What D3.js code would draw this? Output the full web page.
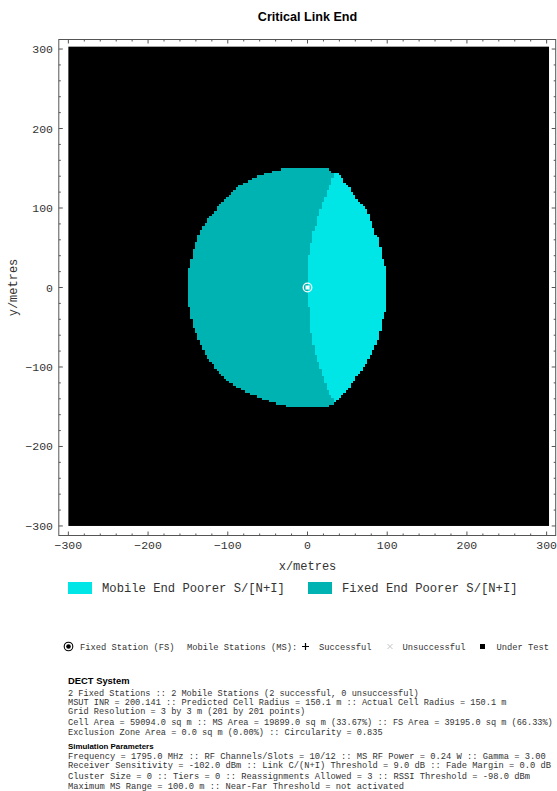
<!DOCTYPE html>
<html>
<head>
<meta charset="utf-8">
<script src="https://cdn.jsdelivr.net/npm/d3@7"></script>
<style>
  html, body { margin: 0; padding: 0; background: #fff; }
  svg { display: block; }
</style>
</head>
<body>
<script>
// ---- Data -----------------------------------------------------------------
const title = "Critical Link End";
const xLabel = "x/metres";
const yLabel = "y/metres";
const majorTicks = [-300, -200, -100, 0, 100, 200, 300];
const minorStep = 20;
const gridStep = 3;            // metres between grid points
const gridMin = -300, gridMax = 300;

// Outer left edge of the cell (fixed end poorer side), top -> bottom
const leftEdge = [
  [34,144],[26,148.5],[10,151],[-10,151],[-31,149.5],[-43,145.7],[-59,141.5],
  [-72,135.2],[-85,128.9],[-97,118.4],[-108,105.9],[-119,93.3],[-131,76.5],
  [-139,59.7],[-144,43],[-148,26],[-151,5],[-151,-5],[-148,-28],[-143,-49],
  [-136,-66],[-129,-83],[-116,-100],[-106,-112],[-89,-125],[-72,-133],
  [-51,-141.5],[-32,-148],[-10,-151],[10,-151],[26,-148.5],[35,-144]
];
// Boundary between the two regions, top -> bottom
const splitEdge = [
  [34,144],[28,129],[24,118.4],[20,108],[15.7,97.5],[11.5,80.7],[7.3,72.3],
  [4.4,57.6],[0.6,38.8],[0.2,0],[2.3,-36.7],[4.4,-57.6],[7.3,-72.3],
  [9.6,-82.8],[15.7,-99.6],[19.9,-112.2],[24,-124.7],[28.2,-133.1],[35,-144]
];
// Outer right edge of the cell (mobile end poorer side), top -> bottom
const rightEdge = [
  [34,144],[37,143.6],[45,135.2],[51,126.8],[58,118.4],[64,108],[74,97.5],
  [80.5,82.4],[85,67.7],[90,59.7],[93.5,38.8],[99.3,22],[99.3,-24],
  [93.5,-40.9],[90,-61.8],[85,-72.3],[80.5,-82.8],[74,-95.4],[64,-108],
  [58,-116.4],[51,-126.8],[45,-133],[37,-141.5],[35,-144]
];
const fixedStations = [[0, 0]];

const regionNames = ["Mobile End Poorer S/[N+I]", "Fixed End Poorer S/[N+I]"];
const regionColors = ["#00E6E6", "#00B3B3"];

const markerKey = [
  { sym: "fs",     text: "Fixed Station (FS)" },
  { sym: "none",   text: "Mobile Stations (MS):" },
  { sym: "plus",   text: "Successful" },
  { sym: "cross",  text: "Unsuccessful" },
  { sym: "square", text: "Under Test" }
];

const dectTitle = "DECT System";
const dectLines = [
  "2 Fixed Stations :: 2 Mobile Stations (2 successful, 0 unsuccessful)",
  "MSUT INR = 200.141 :: Predicted Cell Radius = 150.1 m :: Actual Cell Radius = 150.1 m",
  "Grid Resolution = 3 by 3 m (201 by 201 points)",
  "Cell Area = 59094.0 sq m :: MS Area = 19899.0 sq m (33.67%) :: FS Area = 39195.0 sq m (66.33%)",
  "Exclusion Zone Area = 0.0 sq m (0.00%) :: Circularity = 0.835"
];
const simTitle = "Simulation Parameters";
const simLines = [
  "Frequency = 1795.0 MHz :: RF Channels/Slots = 10/12 :: MS RF Power = 0.24 W :: Gamma = 3.00",
  "Receiver Sensitivity = -102.0 dBm :: Link C/(N+I) Threshold = 9.0 dB :: Fade Margin = 0.0 dB",
  "Cluster Size = 0 :: Tiers = 0 :: Reassignments Allowed = 3 :: RSSI Threshold = -98.0 dBm",
  "Maximum MS Range = 100.0 m :: Near-Far Threshold = not activated"
];

// ---- Layout ---------------------------------------------------------------
const W = 557, H = 791;
const mono = "'Liberation Mono', 'DejaVu Sans Mono', monospace";
const sans = "'Liberation Sans', Arial, sans-serif";

const x = d3.scaleLinear().domain([-312, 312]).range([58.8, 556.2]);
const y = d3.scaleLinear().domain([-312, 312]).range([535.5, 39.5]);

const svg = d3.select("body").append("svg")
  .attr("width", W).attr("height", H)
  .attr("viewBox", `0 0 ${W} ${H}`);

svg.append("text")
  .attr("x", 307.5).attr("y", 20.5)
  .attr("text-anchor", "middle")
  .style("font-family", sans).style("font-weight", "bold")
  .style("font-size", "12.6px").attr("fill", "#000")
  .text(title);

// ---- Grid of cells ----------------------------------------------------------
const plot = svg.append("g");
plot.append("rect")
  .attr("x", x(gridMin)).attr("y", y(gridMax + gridStep))
  .attr("width", x(gridMax + gridStep) - x(gridMin))
  .attr("height", y(gridMin) - y(gridMax + gridStep))
  .attr("fill", "#000");

const fixedPoly = leftEdge.concat(splitEdge.slice().reverse());
const mobilePoly = splitEdge.concat(rightEdge.slice().reverse());

const gridVals = d3.range(gridMin, gridMax + 1, gridStep);
const runs = [];
gridVals.forEach(gy => {
  let cur = null;
  gridVals.forEach(gx => {
    const c = [gx + gridStep / 2, gy + gridStep / 2];
    let k = -1;
    if (d3.polygonContains(mobilePoly, c)) k = 0;
    else if (d3.polygonContains(fixedPoly, c)) k = 1;
    if (cur && cur.k === k) { cur.x1 = gx + gridStep; }
    else {
      if (cur && cur.k >= 0) runs.push(cur);
      cur = { k, y0: gy, x0: gx, x1: gx + gridStep };
    }
  });
  if (cur && cur.k >= 0) runs.push(cur);
});

plot.selectAll("rect.cell").data(runs).join("rect")
  .attr("class", "cell")
  .attr("x", d => x(d.x0))
  .attr("y", d => y(d.y0 + gridStep))
  .attr("width", d => x(d.x1) - x(d.x0))
  .attr("height", d => y(d.y0) - y(d.y0 + gridStep) + 0.4)
  .attr("fill", d => regionColors[d.k])
  .attr("shape-rendering", "crispEdges");

// fixed station marker
const fs = plot.selectAll("g.fs").data(fixedStations).join("g")
  .attr("transform", d => `translate(${x(d[0])},${y(d[1])})`);
fs.append("circle").attr("r", 4.3).attr("fill", "none")
  .attr("stroke", "#fff").attr("stroke-width", 1.3);
fs.append("rect").attr("x", -2).attr("y", -2).attr("width", 4).attr("height", 4)
  .attr("fill", "#fff");

// ---- Frame and ticks ---------------------------------------------------------
const frameColor = "#555";
svg.append("rect")
  .attr("x", x(-312)).attr("y", y(312))
  .attr("width", x(312) - x(-312) - 0.5).attr("height", y(-312) - y(312))
  .attr("fill", "none").attr("stroke", frameColor).attr("stroke-width", 1);

const minorTicks = d3.range(-300, 301, minorStep).filter(v => !majorTicks.includes(v));
const ticks = majorTicks.map(v => ({ v, len: 4 })).concat(minorTicks.map(v => ({ v, len: 2 })));
const tg = svg.append("g").attr("stroke", frameColor).attr("stroke-width", 1);
ticks.forEach(t => {
  tg.append("line").attr("x1", x(t.v)).attr("x2", x(t.v)).attr("y1", y(-312)).attr("y2", y(-312) - t.len);
  tg.append("line").attr("x1", x(t.v)).attr("x2", x(t.v)).attr("y1", y(312)).attr("y2", y(312) + t.len);
  tg.append("line").attr("y1", y(t.v)).attr("y2", y(t.v)).attr("x1", x(-312)).attr("x2", x(-312) + t.len);
  tg.append("line").attr("y1", y(t.v)).attr("y2", y(t.v)).attr("x1", x(312) - 0.5).attr("x2", x(312) - 0.5 - t.len);
});

const fmt = v => (v < 0 ? "\u2212" + Math.abs(v) : String(v));
svg.append("g").selectAll("text").data(majorTicks).join("text")
  .attr("x", d => x(d)).attr("y", 549)
  .attr("text-anchor", "middle")
  .style("font-family", mono).style("font-size", "11.5px").attr("fill", "#333")
  .text(fmt);
svg.append("g").selectAll("text").data(majorTicks).join("text")
  .attr("x", 53).attr("y", d => y(d) + 4)
  .attr("text-anchor", "end")
  .style("font-family", mono).style("font-size", "11.5px").attr("fill", "#333")
  .text(fmt);

svg.append("text")
  .attr("x", 307.5).attr("y", 570)
  .attr("text-anchor", "middle")
  .style("font-family", mono).style("font-size", "12px").attr("fill", "#333")
  .text(xLabel);
svg.append("text")
  .attr("transform", `translate(17,${y(0)}) rotate(-90)`)
  .attr("text-anchor", "middle")
  .style("font-family", mono).style("font-size", "12px").attr("fill", "#333")
  .text(yLabel);

// ---- Region legend -----------------------------------------------------------
const legX = [68, 308];
regionNames.forEach((name, i) => {
  svg.append("rect").attr("x", legX[i]).attr("y", 582).attr("width", 24).attr("height", 12)
    .attr("fill", regionColors[i]);
  svg.append("text").attr("x", legX[i] + 34).attr("y", 592)
    .style("font-family", mono).style("font-size", "12.2px").attr("fill", "#333")
    .text(name);
});

// ---- Marker key ------------------------------------------------------------
const keyY = 646.5;
const keySymX = [68.5, null, 305.5, 390, 482.5];
const keyTextX = [80, 187, 319, 402.5, 496.5];
const kg = svg.append("g");
markerKey.forEach((m, i) => {
  const sx = keySymX[i];
  if (m.sym === "fs") {
    kg.append("circle").attr("cx", sx).attr("cy", keyY).attr("r", 4.3)
      .attr("fill", "none").attr("stroke", "#000").attr("stroke-width", 1.1);
    kg.append("circle").attr("cx", sx).attr("cy", keyY).attr("r", 2.3).attr("fill", "#000");
  } else if (m.sym === "plus") {
    kg.append("path").attr("d", `M${sx - 3.5},${keyY}H${sx + 3.5}M${sx},${keyY - 3.5}V${keyY + 3.5}`)
      .attr("stroke", "#000").attr("stroke-width", 1.2);
  } else if (m.sym === "cross") {
    kg.append("path").attr("d", `M${sx - 2.5},${keyY - 2.5}L${sx + 2.5},${keyY + 2.5}M${sx + 2.5},${keyY - 2.5}L${sx - 2.5},${keyY + 2.5}`)
      .attr("stroke", "#bbb").attr("stroke-width", 0.9);
  } else if (m.sym === "square") {
    kg.append("rect").attr("x", sx - 2.5).attr("y", keyY - 2.5).attr("width", 5).attr("height", 5)
      .attr("fill", "#000");
  }
  kg.append("text").attr("x", keyTextX[i]).attr("y", keyY + 3)
    .style("font-family", mono).style("font-size", "8.75px").attr("fill", "#333")
    .text(m.text);
});

// ---- Info text -------------------------------------------------------------
const info = svg.append("g");
info.append("text").attr("x", 68).attr("y", 684)
  .style("font-family", sans).style("font-weight", "bold").style("font-size", "9.4px")
  .attr("fill", "#000").text(dectTitle);
const dectY = [695.5, 705, 714, 724.5, 734.5];
dectLines.forEach((t, i) => {
  info.append("text").attr("x", 68).attr("y", dectY[i])
    .style("font-family", mono).style("font-size", "8.6px").attr("fill", "#333")
    .text(t);
});
info.append("text").attr("x", 68).attr("y", 748.5)
  .style("font-family", sans).style("font-weight", "bold").style("font-size", "7.9px")
  .attr("fill", "#000").text(simTitle);
const simY = [758.5, 768, 778.5, 788.5];
simLines.forEach((t, i) => {
  info.append("text").attr("x", 68).attr("y", simY[i])
    .style("font-family", mono).style("font-size", "8.75px").attr("fill", "#333")
    .text(t);
});
</script>
</body>
</html>
